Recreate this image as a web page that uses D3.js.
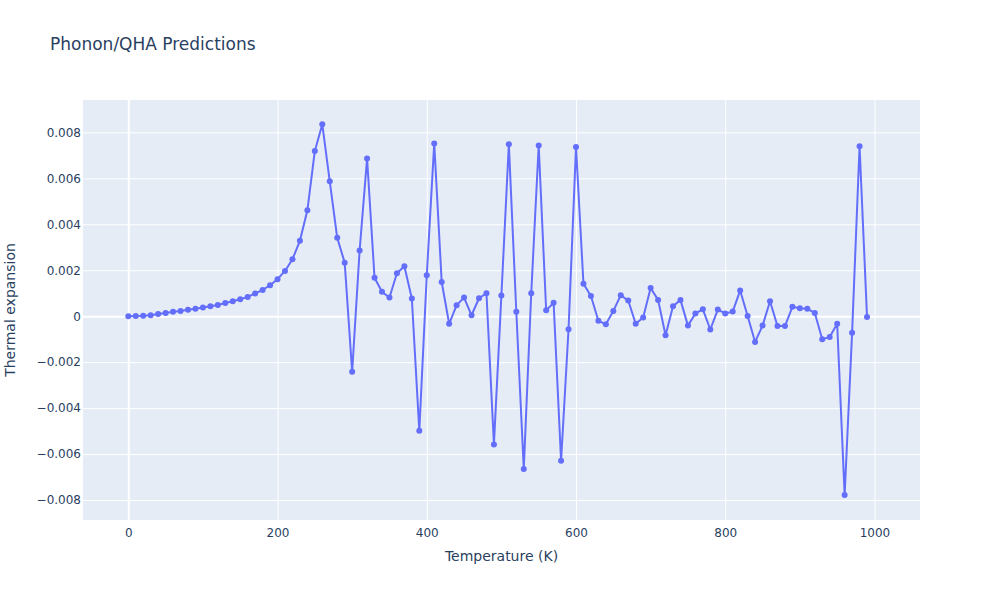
<!DOCTYPE html>
<html>
<head>
<meta charset="utf-8">
<script src="https://cdn.jsdelivr.net/npm/d3@7"></script>
<style>
  body { margin: 0; background: #fff; }
  text { font-family: "DejaVu Sans", Verdana, sans-serif; }
</style>
</head>
<body>
<svg id="chart"></svg>
<script>
// temperatures (K) and thermal expansion values
const temperatures = d3.range(0, 1000, 10);
const expansion = [
  0, 0.00001, 0.00002, 0.00004, 0.0001, 0.00014, 0.00019, 0.00023, 0.00028, 0.00032,
  0.00038, 0.00043, 0.00049, 0.00057, 0.00065, 0.00074, 0.00084, 0.00099, 0.00114, 0.00135,
  0.00161, 0.00197, 0.00248, 0.00328, 0.00461, 0.00719, 0.00835, 0.00587, 0.00341, 0.00233,
  -0.00242, 0.00286, 0.00686, 0.00167, 0.00106, 0.00081, 0.00187, 0.00217, 0.00077, -0.00499,
  0.00178, 0.00752, 0.00149, -0.00033, 0.00048, 0.00081, 0.00004, 0.00078, 0.001, -0.00558,
  0.0009, 0.00748, 0.00019, -0.00665, 0.001, 0.00743, 0.00026, 0.00058, -0.00629, -0.00057,
  0.00736, 0.00141, 0.00088, -0.0002, -0.00035, 0.00023, 0.00091, 0.00068, -0.00033, -0.00006,
  0.00123, 0.00071, -0.00083, 0.00043, 0.00071, -0.00041, 0.00012, 0.0003, -0.00058, 0.00029,
  0.00012, 0.0002, 0.00112, 0.00001, -0.00112, -0.00041, 0.00065, -0.00043, -0.00043, 0.00041,
  0.00035, 0.00032, 0.00014, -0.001, -0.00091, -0.00033, -0.00778, -0.00072, 0.00739, -0.00003
];
const xTicks = [0, 200, 400, 600, 800, 1000];
const yTicks = [-0.008, -0.006, -0.004, -0.002, 0, 0.002, 0.004, 0.006, 0.008];

const width = 1000, height = 600;
const margin = { top: 100, right: 80, bottom: 80, left: 83 };
const textColor = "#2a3f5f";

const svg = d3.select("#chart")
  .attr("width", width)
  .attr("height", height);

const x = d3.scaleLinear()
  .domain([-60.7, 1061])
  .range([margin.left, width - margin.right]);

const y = d3.scaleLinear()
  .domain([-0.008869, 0.009408])
  .range([height - margin.bottom, margin.top]);

// plot background
svg.append("rect")
  .attr("x", margin.left)
  .attr("y", margin.top)
  .attr("width", width - margin.left - margin.right)
  .attr("height", height - margin.top - margin.bottom)
  .attr("fill", "#e5ecf6");

// gridlines
const xAxis = d3.axisBottom(x)
  .tickValues(xTicks)
  .tickSize(-(height - margin.top - margin.bottom))
  .tickPadding(8)
  .tickFormat(d3.format("d"));

const yAxis = d3.axisLeft(y)
  .tickValues(yTicks)
  .tickSize(-(width - margin.left - margin.right))
  .tickPadding(2)
  .tickFormat(d => d === 0 ? "0" : d3.format(".3f")(d));

const gx = svg.append("g")
  .attr("transform", `translate(0, ${height - margin.bottom})`)
  .call(xAxis);

const gy = svg.append("g")
  .attr("transform", `translate(${margin.left}, 0)`)
  .call(yAxis);

[gx, gy].forEach(g => {
  g.select(".domain").remove();
  g.selectAll(".tick line")
    .attr("stroke", "#fff")
    .attr("stroke-width", d => d === 0 ? 2 : 1);
  g.selectAll(".tick text")
    .attr("fill", textColor)
    .style("font-size", "12px");
});

// line + markers
const line = d3.line()
  .x((d, i) => x(temperatures[i]))
  .y(d => y(d));

svg.append("path")
  .datum(expansion)
  .attr("fill", "none")
  .attr("stroke", "#636efa")
  .attr("stroke-width", 2)
  .attr("stroke-linejoin", "round")
  .attr("d", line);

svg.selectAll(".dot")
  .data(expansion)
  .enter()
  .append("circle")
  .attr("class", "dot")
  .attr("cx", (d, i) => x(temperatures[i]))
  .attr("cy", d => y(d))
  .attr("r", 3)
  .attr("fill", "#636efa");

// titles
svg.append("text")
  .attr("x", 50)
  .attr("y", 50)
  .attr("fill", textColor)
  .style("font-size", "17px")
  .text("Phonon/QHA Predictions");

svg.append("text")
  .attr("x", (margin.left + width - margin.right) / 2)
  .attr("y", 561)
  .attr("text-anchor", "middle")
  .attr("fill", textColor)
  .style("font-size", "14px")
  .text("Temperature (K)");

svg.append("text")
  .attr("transform", `translate(15, ${(margin.top + height - margin.bottom) / 2}) rotate(-90)`)
  .attr("text-anchor", "middle")
  .attr("fill", textColor)
  .style("font-size", "14px")
  .text("Thermal expansion");
</script>
</body>
</html>
